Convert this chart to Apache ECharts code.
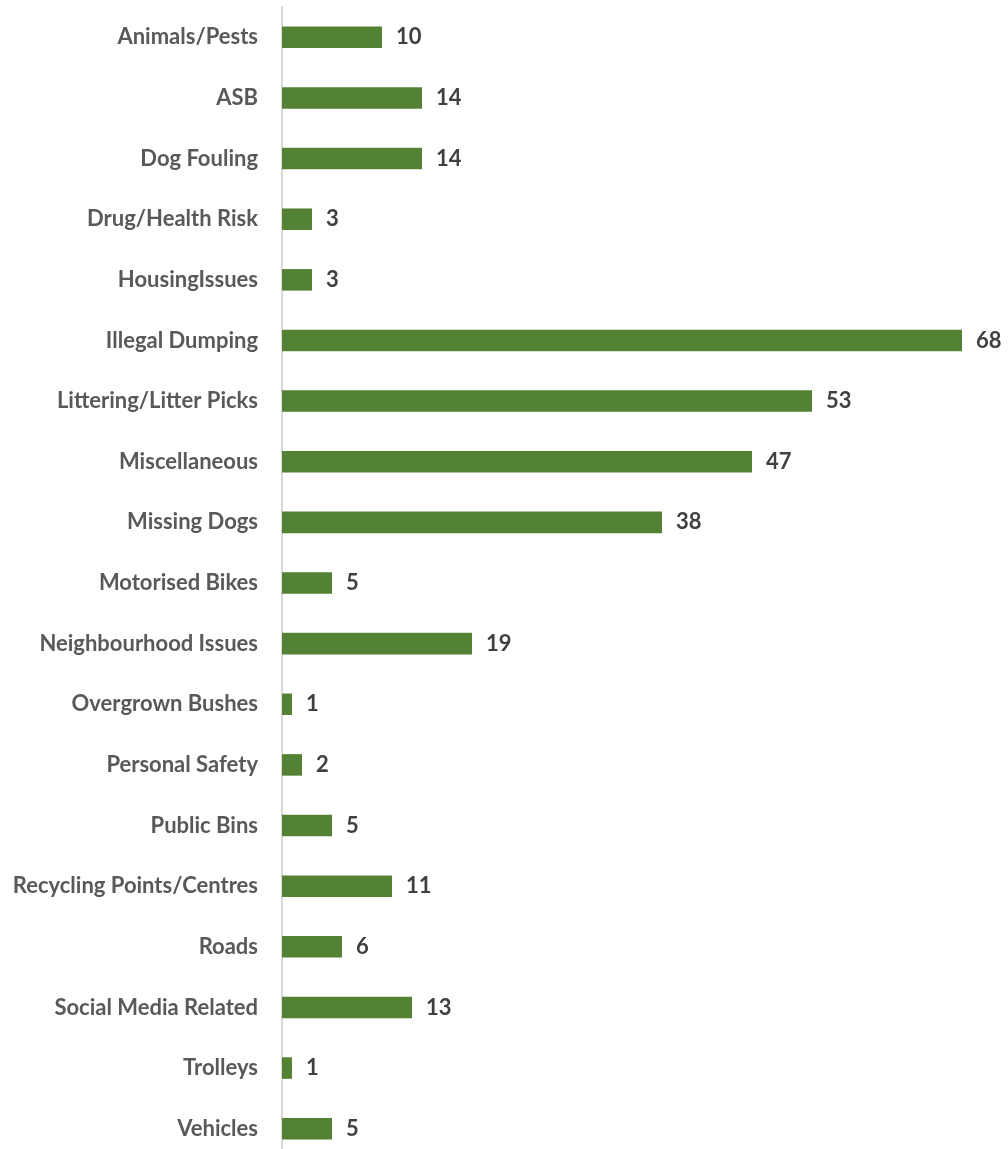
<!DOCTYPE html>
<html>
<head>
<meta charset="utf-8">
<script src="https://cdn.jsdelivr.net/npm/echarts@6/dist/echarts.min.js"></script>
<style>
html,body{margin:0;padding:0;background:#fff;}
#chart{width:1008px;height:1149px;}
</style>
</head>
<body>
<div id="chart"></div>
<script>
const categories = ["Animals/Pests","ASB","Dog Fouling","Drug/Health Risk","HousingIssues","Illegal Dumping","Littering/Litter Picks","Miscellaneous","Missing Dogs","Motorised Bikes","Neighbourhood Issues","Overgrown Bushes","Personal Safety","Public Bins","Recycling Points/Centres","Roads","Social Media Related","Trolleys","Vehicles"];
const values = [10,14,14,3,3,68,53,47,38,5,19,1,2,5,11,6,13,1,5];

const chart = echarts.init(document.getElementById('chart'), null, {renderer:'canvas'});
chart.setOption({
  animation:false,
  grid:{left:282, width:720, top:7, height:1152, containLabel:false, outerBoundsMode:'none'},
  xAxis:{type:'value', min:0, max:72, show:false},
  yAxis:{
    type:'category', data:categories, inverse:true,
    axisLine:{show:true, lineStyle:{color:'#d9d9d9', width:2}},
    axisTick:{show:false},
    axisLabel:{color:'#595959', fontFamily:'Lato', fontWeight:'bold', fontSize:22, margin:24}
  },
  series:[{
    type:'bar', data:values, barWidth:'35.5%',
    itemStyle:{color:'#548235'},
    label:{show:true, position:'right', distance:14, color:'#404040', fontFamily:'Lato', fontWeight:'bold', fontSize:22}
  }]
});
</script>
</body>
</html>
